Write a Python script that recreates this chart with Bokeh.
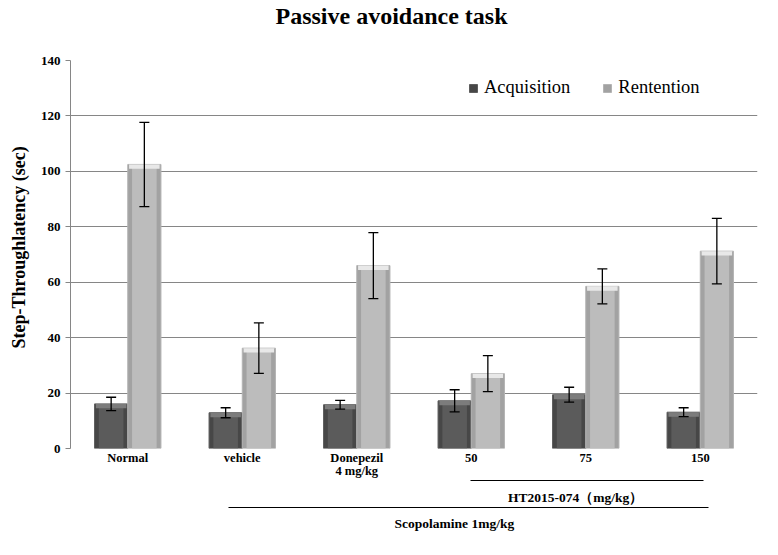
from bokeh.plotting import figure
from bokeh.models import (FactorRange, Whisker, ColumnDataSource, Legend, LegendItem,
                          CategoricalAxis, TeeHead, FixedTicker, Title)
from bokeh.transform import dodge
from bokeh.embed import file_html
from bokeh.resources import INLINE

categories = ["Normal", "vehicle", "Donepezil\n4 mg/kg", "50", "75", "150"]
acquisition = [16.1, 12.9, 15.8, 17.2, 19.4, 13.1]
acquisition_err = [2.4, 1.8, 1.6, 4.0, 2.7, 1.6]
retention = [102.5, 36.2, 66.0, 27.0, 58.5, 71.2]
retention_err = [15.2, 9.1, 11.9, 6.5, 6.3, 11.8]
y_ticks = [0, 20, 40, 60, 80, 100, 120, 140]
ht_label = "HT2015-074（mg/kg）"
scop_label = "Scopolamine 1mg/kg"

SERIF = "Liberation Serif"
bw = 0.29
off = bw / 2

src = ColumnDataSource(dict(
    cat=categories,
    acq=acquisition,
    acq_top_in=[v - 0.5 for v in acquisition],
    acq_cap=[v - 1.6 for v in acquisition],
    acq_lo=[v - e for v, e in zip(acquisition, acquisition_err)],
    acq_hi=[v + e for v, e in zip(acquisition, acquisition_err)],
    ret=retention,
    ret_top_in=[v - 0.5 for v in retention],
    ret_cap=[v - 1.6 for v in retention],
    ret_lo=[v - e for v, e in zip(retention, retention_err)],
    ret_hi=[v + e for v, e in zip(retention, retention_err)],
))

p = figure(x_range=FactorRange(factors=categories), y_range=(0, 140),
           width=770, height=547, output_backend="svg", toolbar_location=None,
           min_border_left=70, min_border_right=13, min_border_top=60, min_border_bottom=99)
p.outline_line_color = None
p.background_fill_color = "white"
p.title = Title(text="Passive avoidance task\n\u00a0", align="left", offset=205,
                vertical_align="bottom", standoff=0, text_line_height=1.2,
                text_font=SERIF, text_font_style="bold", text_font_size="24px", text_color="black")

# bars
xa = dodge("cat", -off, range=p.x_range)
xr = dodge("cat", off, range=p.x_range)
ra = p.vbar(x=xa, top="acq", width=bw, source=src, fill_color="#474747", line_color="#5e5e5e", line_width=1)
p.vbar(x=xa, top="acq_top_in", width=bw * 0.74, source=src, fill_color="#5b5b5b", line_color=None)
p.vbar(x=xa, top="acq", bottom="acq_cap", width=bw * 0.92, source=src, fill_color="#7c7c7c", line_color=None)
rr = p.vbar(x=xr, top="ret", width=bw, source=src, fill_color="#a2a2a2", line_color="#b4b4b4", line_width=1)
p.vbar(x=xr, top="ret_top_in", width=bw * 0.74, source=src, fill_color="#bcbcbc", line_color=None)
p.vbar(x=xr, top="ret", bottom="ret_cap", width=bw * 0.92, source=src, fill_color="#e8e8e8", line_color=None)

for base, lo, hi in ((xa, "acq_lo", "acq_hi"), (xr, "ret_lo", "ret_hi")):
    w = Whisker(base=base, lower=lo, upper=hi, source=src, line_color="black", line_width=1.3,
                level="annotation",
                upper_head=TeeHead(size=10, line_color="black", line_width=1.3),
                lower_head=TeeHead(size=10, line_color="black", line_width=1.3))
    p.add_layout(w)

# y axis
p.yaxis.ticker = FixedTicker(ticks=y_ticks)
p.yaxis.axis_line_color = "#868686"
p.yaxis.major_tick_line_color = "#868686"
p.yaxis.major_tick_out = 5
p.yaxis.major_tick_in = 0
p.yaxis.minor_tick_line_color = None
p.yaxis.major_label_text_font = SERIF
p.yaxis.major_label_text_font_style = "bold"
p.yaxis.major_label_text_font_size = "13px"
p.yaxis.major_label_text_color = "black"
p.add_layout(Title(text="Step-Throughlatency (sec)", align="left", offset=100,
                   vertical_align="top", standoff=14,
                   text_font=SERIF, text_font_style="bold", text_font_size="18px",
                   text_color="black"), "left")

# category axis
p.xaxis.axis_line_color = None
p.xaxis.major_tick_line_color = None
p.xaxis.minor_tick_line_color = None
p.xaxis.major_label_text_font = SERIF
p.xaxis.major_label_text_font_style = "bold"
p.xaxis.major_label_text_font_size = "12.5px"
p.xaxis.major_label_text_color = "black"
p.xaxis.major_label_text_line_height = 0.95
p.xaxis.major_label_standoff = -4

p.xgrid.grid_line_color = None
p.ygrid.grid_line_color = "#868686"
p.ygrid.grid_line_width = 1

# group brackets: extra categorical axes below (slots place each label under its bracket)
n = len(categories)
slots = 17
ht_slots = [" " * (i + 1) for i in range(12)] + [ht_label] + [" " * (i + 13) for i in range(4)]
scop_slots = [" " * (i + 1) for i in range(9)] + [scop_label] + [" " * (i + 10) for i in range(7)]
p.extra_x_ranges = {"ht": FactorRange(factors=ht_slots), "scop": FactorRange(factors=scop_slots)}
for name, lo, hi, standoff in (("ht", 3.49, 5.53, 9), ("scop", 1.38, 5.57, 8)):
    k = slots / n
    ax = CategoricalAxis(x_range_name=name, bounds=(lo * k, hi * k),
                         axis_line_color="black", axis_line_width=1,
                         major_tick_line_color=None, minor_tick_line_color=None,
                         major_tick_in=0, major_tick_out=0,
                         major_label_standoff=standoff, major_label_text_font=SERIF,
                         major_label_text_font_style="bold", major_label_text_font_size="13.5px",
                         major_label_text_color="black")
    p.add_layout(ax, "below")

# legend
legend = Legend(items=[LegendItem(label="Acquisition", renderers=[ra]),
                       LegendItem(label="Rentention", renderers=[rr])],
                orientation="horizontal", location=(398, 350),
                label_text_font=SERIF, label_text_font_size="18.5px", label_text_color="black",
                glyph_width=10, glyph_height=10, spacing=32, label_standoff=6,
                border_line_color=None, background_fill_alpha=0)
p.add_layout(legend)

open("out.html", "w").write(file_html(p, INLINE))
